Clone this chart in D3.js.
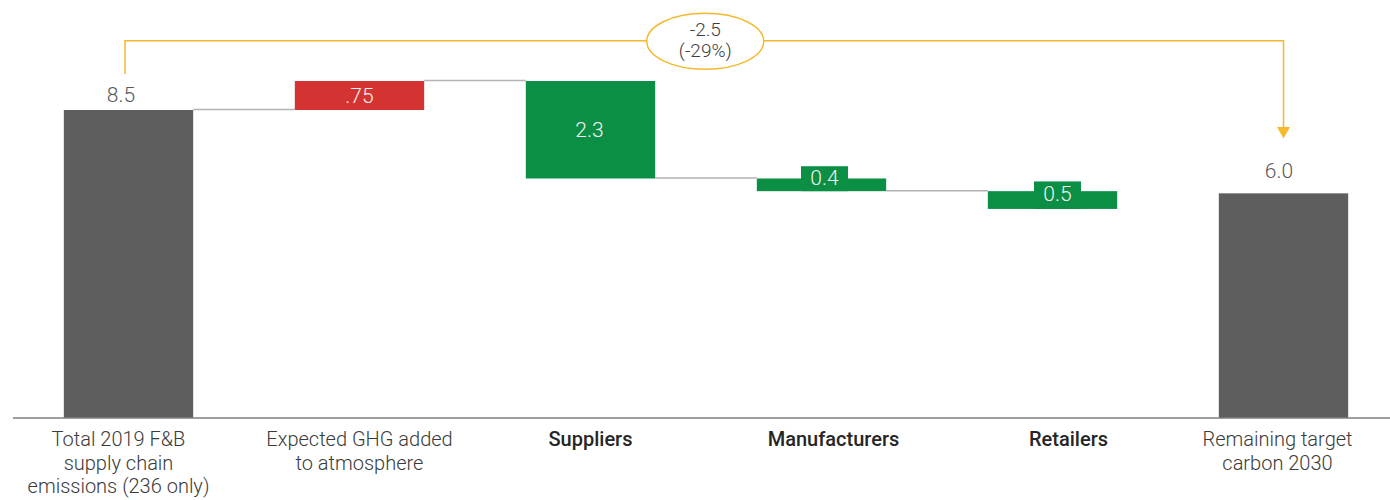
<!DOCTYPE html>
<html>
<head>
<meta charset="utf-8">
<script src="https://cdn.jsdelivr.net/npm/d3@7"></script>
<style>
  body { margin: 0; background: #fff; }
  text { font-family: Roboto, "Noto Sans", sans-serif; }
</style>
</head>
<body>
<div id="root"></div>
<script>
// category labels, split into lines
var categories = [
  ['Total 2019 F&B', 'supply chain', 'emissions (236 only)'],
  ['Expected GHG added', 'to atmosphere'],
  ['Suppliers'],
  ['Manufacturers'],
  ['Retailers'],
  ['Remaining target', 'carbon 2030']
];
var boldCategory = [false, false, true, true, true, false];

// step sizes as drawn, first and last are totals
var stepValues = [8.5, 0.8, -2.69, -0.35, -0.49];
var finalValue = 6.2;
var valueLabels = ['8.5', '.75', '2.3', '0.4', '0.5', '6.0'];
var kinds = ['total', 'up', 'down', 'down', 'down', 'total'];

var changeLabel = ['-2.5', '(-29%)'];

// layout: small horizontal nudges of the texts, as in the original slide
var catNudge = [-10, 0, 0, 12, 16, -6];
var valNudge = [-7.5, 0, -1, 3, 5, -4.5];

var width = 1390, height = 500;
var colors = { total: '#5e5e5e', up: '#d43431', down: '#0a8f45' };
var yellow = '#f5b92e';

// build waterfall rows
var rows = [];
var level = 0;
stepValues.forEach((v, i) => {
  var start = i === 0 ? 0 : level;
  var end = start + v;
  rows.push({ i: i, start: start, end: end, kind: kinds[i], label: valueLabels[i] });
  level = end;
});
rows.push({ i: 5, start: 0, end: finalValue, kind: kinds[5], label: valueLabels[5] });

var svg = d3.select('#root')
  .append('svg')
    .attr('width', width)
    .attr('height', height);

var x = d3.scaleBand()
  .domain(d3.range(categories.length))
  .range([13, 1399])
  .paddingInner(0.44)
  .paddingOuter(0.22);

var y = d3.scaleLinear()
  .domain([0, 8.5])
  .range([418, 110]);

// connectors
var connectors = rows.slice(0, 4).map((r, i) => ({ from: i, to: i + 1, v: r.end }));
svg.selectAll('line.conn')
  .data(connectors)
  .enter()
  .append('line')
    .attr('class', 'conn')
    .attr('x1', d => x(d.from) + x.bandwidth())
    .attr('x2', d => x(d.to))
    .attr('y1', d => y(d.v) - 0.5)
    .attr('y2', d => y(d.v) - 0.5)
    .attr('stroke', '#b3b3b3')
    .attr('stroke-width', 1.5);

// bars
svg.selectAll('rect.bar')
  .data(rows)
  .enter()
  .append('rect')
    .attr('class', 'bar')
    .attr('x', d => x(d.i))
    .attr('y', d => y(Math.max(d.start, d.end)))
    .attr('width', x.bandwidth())
    .attr('height', d => Math.abs(y(d.start) - y(d.end)))
    .attr('fill', d => colors[d.kind]);

// axis line
svg.append('line')
  .attr('x1', 13)
  .attr('x2', width)
  .attr('y1', 418)
  .attr('y2', 418)
  .attr('stroke', '#7f7f7f')
  .attr('stroke-width', 1.5);

// value labels
rows.forEach(d => {
  var cx = x(d.i) + x.bandwidth() / 2 + valNudge[d.i];
  var top = y(Math.max(d.start, d.end));
  var bottom = y(Math.min(d.start, d.end));
  if (d.kind === 'total') {
    svg.append('text')
      .attr('x', cx)
      .attr('y', top - (d.i === 0 ? 8 : 15))
      .attr('text-anchor', 'middle')
      .attr('font-size', 21)
      .attr('font-weight', 300)
      .attr('fill', '#595959')
      .text(d.label);
    return;
  }
  var h = bottom - top;
  var cy = (top + bottom) / 2;
  if (h < 26) {
    // label box in the bar colour, sticking out of a thin bar
    svg.append('rect')
      .attr('x', cx - 23.5)
      .attr('y', cy - 18.6)
      .attr('width', 47)
      .attr('height', bottom - (cy - 18.6))
      .attr('fill', colors[d.kind]);
    cy = cy - 7;
  }
  svg.append('text')
    .attr('x', cx)
    .attr('y', cy)
    .attr('dy', '0.36em')
    .attr('text-anchor', 'middle')
    .attr('font-size', 21)
    .attr('font-weight', 300)
    .attr('fill', '#f2f2f2')
    .text(d.label);
});

// category labels
categories.forEach((lines, i) => {
  var cx = x(i) + x.bandwidth() / 2 + catNudge[i];
  var t = svg.append('text')
    .attr('x', cx)
    .attr('y', 446)
    .attr('text-anchor', 'middle')
    .attr('font-size', 20)
    .attr('font-weight', boldCategory[i] ? 500 : 300)
    .attr('fill', boldCategory[i] ? '#262626' : '#3a3a3a');
  lines.forEach((l, j) => {
    t.append('tspan')
      .attr('x', cx)
      .attr('dy', j === 0 ? 0 : 23.5)
      .text(l);
  });
});

// bracket annotation
var leftX = x(0) + x.bandwidth() / 2 - 3.5;
var rightX = x(5) + x.bandwidth() / 2;
var bracketY = 40.7;
svg.append('path')
  .attr('d', d3.line()([[leftX, 74], [leftX, bracketY], [rightX, bracketY], [rightX, 128]]))
  .attr('fill', 'none')
  .attr('stroke', yellow)
  .attr('stroke-width', 1.5);
svg.append('path')
  .attr('d', `M${rightX - 6.5},127 L${rightX + 6.5},127 L${rightX},138.5 Z`)
  .attr('fill', yellow);

var ex = (leftX + rightX) / 2 + 1;
svg.append('ellipse')
  .attr('cx', ex)
  .attr('cy', 41.3)
  .attr('rx', 58.5)
  .attr('ry', 28)
  .attr('fill', '#fff')
  .attr('stroke', yellow)
  .attr('stroke-width', 1.5);
svg.selectAll('text.change')
  .data(changeLabel)
  .enter()
  .append('text')
    .attr('class', 'change')
    .attr('x', ex)
    .attr('y', (d, i) => i === 0 ? 35.5 : 56.5)
    .attr('text-anchor', 'middle')
    .attr('font-size', 19)
    .attr('font-weight', 300)
    .attr('fill', '#404040')
    .text(d => d);
</script>
</body>
</html>
